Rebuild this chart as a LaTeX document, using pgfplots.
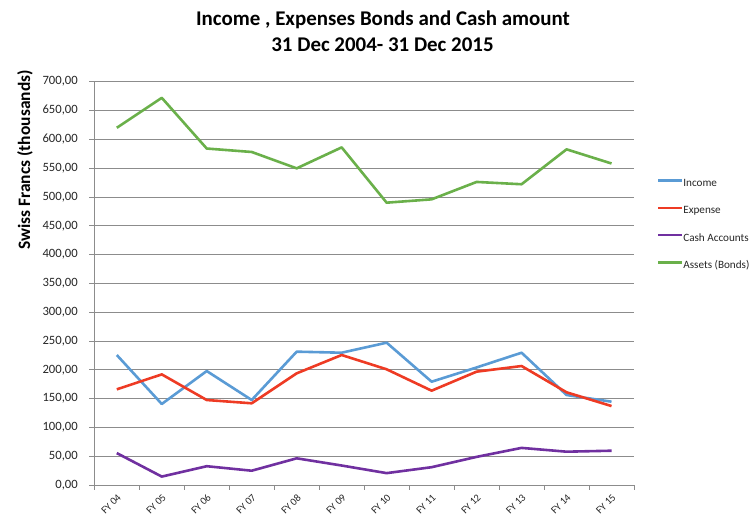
\documentclass[border=0pt]{standalone}
\usepackage{fontspec}
\setmainfont{Carlito}
\usepackage{pgfplots}
\pgfplotsset{compat=1.18}
\definecolor{cInc}{HTML}{5A9BD5}
\definecolor{cExp}{HTML}{EE3B24}
\definecolor{cCash}{HTML}{7030A0}
\definecolor{cAss}{HTML}{6AB04A}
\definecolor{cGrid}{HTML}{8C8C8C}
\definecolor{cText}{HTML}{262626}
\begin{document}
\begin{tikzpicture}[x=1bp,y=1bp]
\useasboundingbox (0,0) rectangle (752,517);
\begin{axis}[
  at={(94.3bp,32bp)}, anchor=south west,
  scale only axis, width=539.7bp, height=403.3bp,
  xmin=-0.5, xmax=11.5, ymin=0, ymax=700,
  axis x line*=bottom, axis y line*=left,
  axis line style={cGrid, line width=0.75bp},
  ytick={0,50,...,700},
  ymajorgrids, grid style={cGrid, line width=0.75bp},
  tick align=outside,
  major tick length=5bp, minor tick length=5bp,
  ytick style={cGrid, line width=0.75bp},
  xtick={0,...,11},
  xticklabels={FY 04,FY 05,FY 06,FY 07,FY 08,FY 09,FY 10,FY 11,FY 12,FY 13,FY 14,FY 15},
  major x tick style={draw=none},
  minor xtick={-0.5,0.5,1.5,2.5,3.5,4.5,5.5,6.5,7.5,8.5,9.5,10.5,11.5},
  minor x tick style={cGrid, line width=0.75bp},
  xticklabel style={rotate=45, anchor=east, yshift=-6bp, xshift=1bp, font=\fontsize{10.5}{12}\selectfont, text=cText},
  yticklabel style={xshift=-8bp, font=\fontsize{12.7}{15}\selectfont, text=cText},
  /pgf/number format/.cd, fixed, fixed zerofill, precision=2, use comma, 1000 sep={}, assume math mode=true,
  /pgfplots/.cd,
  legend style={at={(1.0421,0.6454)}, anchor=west, draw=none, fill=none,
    inner sep=0pt, outer sep=0pt, row sep=16.7bp, column sep=0pt,
    font=\fontsize{11.2}{13}\selectfont,
    nodes={inner sep=0pt, text height=8bp, text depth=2.5bp, text=cText}},
  legend cell align=left,
  legend image code/.code={\draw[#1] (0bp,3.3bp) -- (24bp,3.3bp);},
  every axis plot/.append style={line width=2.6bp, line join=round},
]
\addplot[cInc] coordinates {(0,225.6) (1,140.6) (2,197.8) (3,147.5) (4,231.4) (5,229.6) (6,247) (7,179.3) (8,204) (9,229.6) (10,156.2) (11,144.6)};
\addlegendentry{Income}
\addplot[cExp] coordinates {(0,166) (1,192) (2,147.5) (3,141.8) (4,193.8) (5,225.6) (6,200.8) (7,163.7) (8,196.7) (9,206.5) (10,160.9) (11,137)};
\addlegendentry{Expense}
\addplot[cCash] coordinates {(0,55.4) (1,14.6) (2,32.6) (3,24.8) (4,46.3) (5,33.8) (6,20.6) (7,30.9) (8,48.8) (9,64.4) (10,57.8) (11,59.5)};
\addlegendentry{Cash Accounts}
\addplot[cAss] coordinates {(0,620) (1,672) (2,584) (3,578) (4,549.6) (5,586) (6,490) (7,495.8) (8,526) (9,522) (10,582.6) (11,558)};
\addlegendentry{Assets (Bonds)}
\end{axis}
\node[anchor=base, font=\fontsize{21}{25}\selectfont\bfseries, text=black] at (383,491) {Income , Expenses Bonds and Cash amount};
\node[anchor=base, font=\fontsize{21}{25}\selectfont\bfseries, text=black] at (382.5,465) {31 Dec 2004- 31 Dec 2015};
\node[rotate=90, font=\fontsize{17.5}{20}\selectfont\bfseries, text=black] at (25,357) {Swiss Francs (thousands)};
\end{tikzpicture}
\end{document}
